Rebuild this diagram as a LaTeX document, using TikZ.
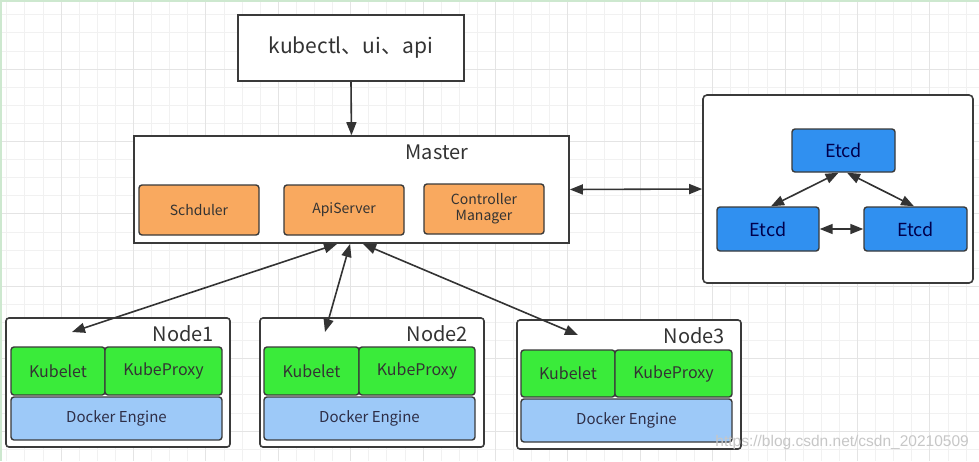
\documentclass[tikz,border=0pt]{standalone}
\usepackage{fontspec}
\setmainfont{Noto Sans CJK SC}
\newfontfamily\wmfont{Liberation Sans}
\usetikzlibrary{arrows.meta,calc}
\definecolor{gridminor}{HTML}{F1F1F1}
\definecolor{gridmajor}{HTML}{E4E4E4}
\definecolor{edgegreen}{HTML}{CDE8CF}
\definecolor{linec}{HTML}{333333}
\definecolor{boxline}{HTML}{3A3A3A}
\definecolor{txt}{HTML}{333333}
\definecolor{orangef}{HTML}{F9A95F}
\definecolor{greenf}{HTML}{3AEB3A}
\definecolor{bluef}{HTML}{9DC9F8}
\definecolor{etcdf}{HTML}{3090F0}
\tikzset{
  box/.style={draw=boxline, line width=1.6pt, fill=white, inner sep=0pt, text=txt},
  rbox/.style={box, rounded corners=3pt},
  comp/.style={draw=boxline, line width=1.4pt, rounded corners=3pt, inner sep=0pt, text=txt, align=center},
  orange/.style={comp, fill=orangef, font=\fontsize{14}{15}\selectfont, minimum width=120pt, minimum height=50pt},
  green/.style={comp, fill=greenf, font=\fontsize{16}{18}\selectfont},
  docker/.style={comp, fill=bluef, font=\fontsize{15}{17}\selectfont, text=txt!90!blue},
  etcd/.style={comp, fill=etcdf, font=\fontsize{18}{20}\selectfont, text=black!70!blue},
  title/.style={text=txt, font=\fontsize{20}{22}\selectfont, inner sep=0pt},
  conn/.style={draw=linec, line width=1.6pt, {Triangle[length=13pt,width=10pt]}-{Triangle[length=13pt,width=10pt]}},
  oneway/.style={draw=linec, line width=1.6pt, -{Triangle[length=13pt,width=10pt]}}
}
\begin{document}
\begin{tikzpicture}[x=1pt,y=-1pt]
\useasboundingbox (0,0) rectangle (979,461);
% background grid
\fill[white] (0,0) rectangle (979,461);
\foreach \i in {0,...,53} { \draw[gridminor, line width=0.8pt] ({6.7+18.1*\i},0) -- ({6.7+18.1*\i},461); }
\foreach \i in {0,...,25} { \draw[gridminor, line width=0.8pt] (0,{14.7+18.1*\i}) -- (979,{14.7+18.1*\i}); }
\foreach \i in {0,...,12} { \draw[gridmajor, line width=1pt] ({61+72.4*\i},0) -- ({61+72.4*\i},461); }
\foreach \i in {0,...,5} { \draw[gridmajor, line width=1pt] (0,{69+72.4*\i}) -- (979,{69+72.4*\i}); }
\draw[edgegreen, line width=2pt] (979,0.8) -- (0.8,0.8) -- (0.8,461);

% client box
\node[box, minimum width=226pt, minimum height=66pt, font=\fontsize{21}{23}\selectfont] (kub) at (351,48) {kubectl、ui、api};

% master
\node[box, minimum width=435pt, minimum height=107pt] (master) at (351.5,189.5) {};
\node[title] (mtitle) at (437,152) {Master};
\node[orange] (sch) at (199,210) {Schduler};
\node[orange] (api) at (344,210) {ApiServer};
\node[orange, font=\fontsize{14}{16}\selectfont] (ctrl) at (484,209) {Controller\\Manager};

% etcd cluster
\node[rbox, rounded corners=4pt, minimum width=270pt, minimum height=188pt] (etcdbox) at (838,189) {};
\node[etcd, minimum width=103pt, minimum height=43pt] (e1) at (843.5,150.5) {Etcd};
\node[etcd, minimum width=102pt, minimum height=44pt] (e2) at (768,229) {Etcd};
\node[etcd, minimum width=103pt, minimum height=44pt] (e3) at (915.5,229) {Etcd};

% node 1
\node[rbox, minimum width=224pt, minimum height=129pt] (n1) at (118,382.5) {};
\node[title, anchor=east] (n1t) at (214,334) {Node1};
\node[green, minimum width=94pt, minimum height=48pt] (k1) at (58,371) {Kubelet};
\node[green, minimum width=117pt, minimum height=48pt] (p1) at (163.5,371) {KubeProxy};
\node[docker, minimum width=211pt, minimum height=43pt] (d1) at (116.5,418.5) {Docker Engine};

% node 2
\node[rbox, minimum width=224pt, minimum height=129pt] (n2) at (372,382.5) {};
\node[title, anchor=east] (n2t) at (468,334) {Node2};
\node[green, minimum width=95pt, minimum height=48pt] (k2) at (311.5,371) {Kubelet};
\node[green, minimum width=116pt, minimum height=48pt] (p2) at (417,371) {KubeProxy};
\node[docker, minimum width=211pt, minimum height=43pt] (d2) at (369.5,418.5) {Docker Engine};

% node 3
\node[rbox, minimum width=224pt, minimum height=129pt] (n3) at (629,384.5) {};
\node[title, anchor=east] (n3t) at (725,336) {Node3};
\node[green, minimum width=94pt, minimum height=47pt] (k3) at (568,373.5) {Kubelet};
\node[green, minimum width=117pt, minimum height=47pt] (p3) at (673.5,373.5) {KubeProxy};
\node[docker, minimum width=211pt, minimum height=43pt] (d3) at (626.5,420.5) {Docker Engine};

% connectors
\draw[oneway] (kub.south) -- (master.north);
\draw[conn] (master.east) -- (etcdbox.west);
\draw[conn] ($(e2.north)+(3,0)$) -- ($(e1.south)+(-5,0)$);
\draw[conn] ($(e1.south)+(3.5,0)$) -- ($(e3.north)+(-1.5,0)$);
\draw[conn] (e2.east) -- (e3.west);

\coordinate (m1) at (337,244);
\coordinate (m2) at (350,244);
\coordinate (m3) at (363,244);
\coordinate (t1) at (72,332);
\coordinate (t2) at (325,332);
\coordinate (t3) at (578,335);
\draw[conn] (m1) -- (t1);
\draw[conn] (m2) -- (t2);
\draw[conn] (m3) -- (t3);

% watermark
\node[text=black!22, font=\wmfont\fontsize{15.5}{17}\selectfont, anchor=east, inner sep=0pt] (wm) at (969,442) {https://blog.csdn.net/csdn\_20210509};
\end{tikzpicture}
\end{document}
